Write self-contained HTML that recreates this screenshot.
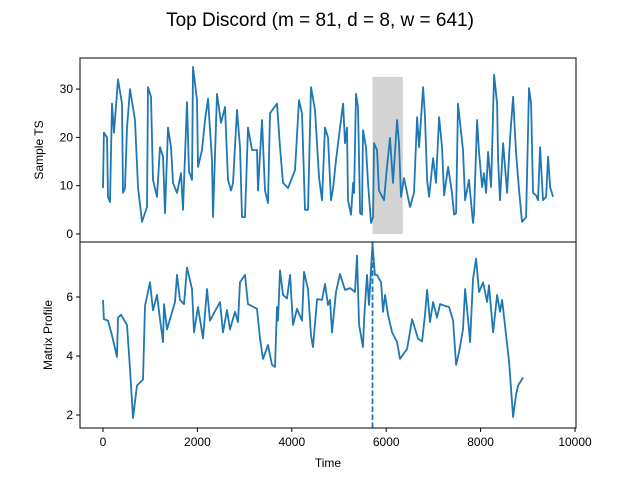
<!DOCTYPE html>
<html><head><meta charset="utf-8"><style>
body{margin:0;background:#fff}
text{font-family:"Liberation Sans","DejaVu Sans",sans-serif;fill:#000}
</style></head><body>
<svg id="chart" width="640" height="480" xmlns="http://www.w3.org/2000/svg">
<text x="320" y="26" font-size="19" text-anchor="middle">Top Discord (m = 81, d = 8, w = 641)</text>
<g id="topAxes"></g><g id="botAxes"></g>
<text transform="translate(43,150) rotate(-90)" font-size="12" text-anchor="middle">Sample TS</text>
<text transform="translate(52,335) rotate(-90)" font-size="12" text-anchor="middle">Matrix Profile</text>
<text x="328" y="467" font-size="12" text-anchor="middle">Time</text>
</svg>
<script>
const tsTimes=[0,20,85,106,148,191,233,318,403,424,466,509,572,678,742,826,932,954,1017,1060,1144,1208,1271,1314,1377,1441,1483,1568,1653,1695,1780,1822,1886,1907,1992,2013,2098,2161,2225,2310,2331,2416,2500,2585,2649,2712,2755,2839,2903,2945,3009,3073,3157,3263,3284,3369,3433,3496,3538,3687,3751,3814,3920,4068,4153,4217,4280,4344,4407,4492,4577,4640,4704,4768,4831,4874,4937,5022,5086,5128,5170,5191,5255,5298,5319,5361,5403,5446,5488,5509,5573,5615,5679,5721,5742,5806,5848,5954,6018,6081,6145,6230,6272,6314,6378,6442,6505,6590,6654,6696,6781,6823,6866,6908,6993,7056,7120,7183,7226,7311,7395,7438,7480,7522,7628,7671,7755,7840,7861,7925,7967,8031,8073,8116,8158,8222,8285,8349,8370,8412,8476,8561,8624,8688,8751,8815,8878,8963,9026,9069,9111,9175,9217,9260,9323,9387,9430,9472,9535];
const tsValues=[9.5,21,20,7.7,6.6,27,21,32,27,8.5,9.5,22,30,23.6,9.7,2.5,5.6,30.4,28.4,11.2,7.7,18,16,4.3,22,18,10.6,8.5,12.6,5,27.3,13,11.2,34.6,27.7,13.9,17.4,23.6,28,15.3,3.5,29,23,26.3,11.2,9,10.5,25.7,18,3.5,3.5,22,17.4,17.4,9,23.6,9,6.4,25,27,18,10.6,9.5,13.2,27.7,25,5,5,30.4,25.7,11.8,7,22,20,7,9.5,15.3,22,27,18.8,22,7,4,10.6,8.5,29,26.3,4.3,4,21.5,18,10.6,2.3,3.5,18.8,17.4,9,7,13.9,19.9,10.6,23.6,18.8,7.7,11.6,8.5,5.6,8.5,24.2,18,30.4,24.2,11.2,7.7,15.7,10.6,24.2,18,8,13.9,8.5,4,4.3,27,17.4,7,11.2,2.3,4.3,23.6,17,9.7,12.6,8.5,17,9.7,33,27,15.3,7,18.8,8.5,20,28.4,17,9,2.5,3.5,30.2,27,8.5,8,7,18,7,7.7,16,9.7,7.7];
const mpTimes=[0,20,106,191,297,318,381,509,572,636,720,848,890,996,1060,1144,1208,1271,1292,1356,1526,1568,1632,1716,1780,1886,1928,2013,2119,2204,2267,2479,2543,2628,2691,2797,2861,2903,3009,3073,3263,3327,3390,3496,3581,3645,3687,3708,3751,3814,3899,3963,4026,4111,4217,4259,4344,4407,4450,4535,4640,4704,4768,4810,4852,4937,5022,5128,5234,5340,5382,5425,5509,5531,5594,5636,5710,5760,5806,5891,5933,5976,6039,6124,6230,6293,6442,6548,6675,6760,6823,6866,6929,6993,7077,7141,7247,7332,7417,7480,7544,7628,7671,7734,7777,7840,7904,7967,8052,8137,8179,8264,8349,8412,8455,8540,8603,8688,8751,8794,8900];
const mpValues=[5.9,5.25,5.2,4.7,3.97,5.3,5.4,5.05,3.56,1.9,3,3.2,5.7,6.5,5.55,6.07,5.25,4.47,5.76,4.9,5.83,6.75,5.9,5.76,7,6.27,4.8,5.66,4.6,6.27,5.2,5.83,4.8,5.56,4.9,5.5,5.15,6.5,6.75,5.76,5.6,4.6,3.9,4.37,3.7,3.63,5.66,5.2,6.9,6.07,5.95,6.75,5.05,5.6,5.2,6.85,6.27,4.7,4.3,5.93,5.9,6.44,5.73,5.9,4.8,6.17,6.78,6.24,6.3,6.17,7.4,5.05,4.3,5.25,6.75,5.73,7.8,6.75,6.75,6.5,5.5,6.07,5.4,4.8,4.47,3.9,4.24,5.25,4.58,4.5,5.4,6.24,5.15,5.83,5.3,5.76,5.7,5.66,5.2,3.7,4.14,4.9,6.27,5.25,4.47,6.6,7.3,6.17,6.5,5.83,6.4,4.8,6.07,5.5,5.9,4.7,3.8,1.93,2.68,3.0,3.27];
const discordStart=5710;
const windowLen=641;
const xTicks=[0,2000,4000,6000,8000,10000];
const topTicks=[0,10,20,30];
const botTicks=[2,4,6];

const NS="http://www.w3.org/2000/svg";
const L=80,R=576;
const xS=t=>103+t*0.0472;
const yTop=v=>234-v*4.83;
const yBot=v=>415-(v-2)*29.5;
function mk(tag,attrs,parent){const e=document.createElementNS(NS,tag);for(const k in attrs)e.setAttribute(k,attrs[k]);parent.appendChild(e);return e;}
const gTop=document.getElementById('topAxes'),gBot=document.getElementById('botAxes');

const hi=Math.max(...tsValues)*0.94;
const rect=mk('rect',{x:xS(discordStart),y:yTop(hi),width:xS(discordStart+windowLen)-xS(discordStart),height:yTop(0)-yTop(hi),fill:'#d3d3d3'},gTop);



let d='';tsTimes.forEach((t,i)=>{d+=(i?'L':'M')+xS(t).toFixed(1)+','+yTop(tsValues[i]).toFixed(1);});
const p1=mk('path',{d:d,fill:'none',stroke:'#1f77b4','stroke-width':1.8,'stroke-linejoin':'round'},gTop);



d='';mpTimes.forEach((t,i)=>{d+=(i?'L':'M')+xS(t).toFixed(1)+','+yBot(mpValues[i]).toFixed(1);});
const p2=mk('path',{d:d,fill:'none',stroke:'#1f77b4','stroke-width':1.8,'stroke-linejoin':'round'},gBot);



const dl=mk('line',{x1:xS(discordStart),x2:xS(discordStart),y1:428,y2:242,stroke:'#1f77b4','stroke-width':1.8,'stroke-dasharray':'5.5,2.5'},gBot);



const f1=mk('rect',{x:L,y:58,width:R-L,height:184,fill:'none',stroke:'#000','stroke-width':1},gTop);


const f2=mk('rect',{x:L,y:242,width:R-L,height:186,fill:'none',stroke:'#000','stroke-width':1},gBot);



topTicks.forEach(v=>{const y=yTop(v);mk('line',{x1:L-4,x2:L,y1:y,y2:y,stroke:'#000'},gTop);
 const t=mk('text',{x:L-7,y:y+4,'font-size':12,'text-anchor':'end'},gTop);t.textContent=v;
 
 });
botTicks.forEach(v=>{const y=yBot(v);mk('line',{x1:L-4,x2:L,y1:y,y2:y,stroke:'#000'},gBot);
 const t=mk('text',{x:L-7,y:y+4,'font-size':12,'text-anchor':'end'},gBot);t.textContent=v;
 
 });
xTicks.forEach(v=>{const x=xS(v);mk('line',{x1:x,x2:x,y1:428,y2:432,stroke:'#000'},gBot);
 const t=mk('text',{x:x,y:446,'font-size':12,'text-anchor':'middle'},gBot);t.textContent=v;
 
 });
</script>
</body></html>
